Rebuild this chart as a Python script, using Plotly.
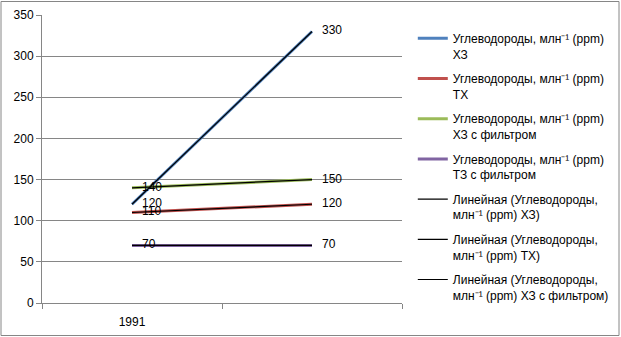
import plotly.graph_objects as go

categories = ["1991", ""]
hc_xz = [120, 330]
hc_tx = [110, 120]
hc_xz_filter = [140, 150]
hc_tz_filter = [70, 70]

series_names = [
    "Углеводороды, млн⁻¹ (ppm)<br>ХЗ",
    "Углеводороды, млн⁻¹ (ppm)<br>ТХ",
    "Углеводороды, млн⁻¹ (ppm)<br>ХЗ с фильтром",
    "Углеводороды, млн⁻¹ (ppm)<br>ТЗ с фильтром",
]
trend_names = [
    "Линейная (Углеводороды,<br>млн⁻¹ (ppm) ХЗ)",
    "Линейная (Углеводороды,<br>млн⁻¹ (ppm) ТХ)",
    "Линейная (Углеводороды,<br>млн⁻¹ (ppm) ХЗ с фильтром)",
]
colors = ["#4F81BD", "#C0504D", "#9BBB59", "#8064A2"]
series = [hc_xz, hc_tx, hc_xz_filter, hc_tz_filter]

xpos = list(range(len(categories)))
FONT = "Liberation Sans"

fig = go.Figure()
for i, (vals, name, col) in enumerate(zip(series, series_names, colors)):
    fig.add_trace(go.Scatter(
        x=xpos, y=vals, name=name, mode="lines+text",
        line=dict(color=col, width=3),
        text=[str(v) for v in vals], texttemplate="   %{text}",
        textposition="middle right",
        textfont=dict(family=FONT, size=12, color="#000000"),
        legendgroup=f"g{i}",
    ))

# linear trendlines (two points -> straight line through them)
for i, vals in enumerate(series):
    show = i < len(trend_names)
    fig.add_trace(go.Scatter(
        x=xpos, y=vals, mode="lines",
        name=trend_names[i] if show else "trend",
        line=dict(color="#000000", width=1.2),
        showlegend=show, legendgroup=f"t{i}",
    ))

W, H = 621, 337
L, R, T, B = 42, 219, 15, 34
pw, ph = W - L - R, H - T - B

fig.update_layout(
    width=W, height=H,
    margin=dict(l=L, r=R, t=T, b=B, autoexpand=False),
    paper_bgcolor="white", plot_bgcolor="white",
    font=dict(family=FONT, size=12, color="#000000"),
    legend=dict(
        x=1.03, y=1 - 24 / H, xanchor="left", yanchor="top",
        yref="container", maxheight=330,
        font=dict(family=FONT, size=12), valign="top",
        traceorder="grouped", tracegroupgap=6, itemwidth=30,
        bgcolor="rgba(0,0,0,0)",
    ),
    xaxis=dict(
        range=[-0.5, 1.5], tickvals=xpos, ticktext=categories,
        ticks="", showgrid=False, zeroline=False, ticklabelstandoff=8,
        showline=True, linecolor="#868686", linewidth=1,
        tickfont=dict(family=FONT, size=12),
        minor=dict(tickvals=[-0.5, 0.5, 1.5], ticks="outside", ticklen=5,
                   tickcolor="#868686", showgrid=False),
    ),
    yaxis=dict(
        range=[0, 350], dtick=50, ticks="outside", ticklen=5,
        tickcolor="#868686", showgrid=True, gridcolor="#868686", gridwidth=1,
        zeroline=False, showline=True, linecolor="#868686", linewidth=1,
        tickfont=dict(family=FONT, size=12),
    ),
    shapes=[dict(
        type="rect", xref="paper", yref="paper",
        x0=(1 - L) / pw, x1=(W - 2 - L) / pw,
        y0=-(B - 1.5) / ph, y1=1 + (T - 1.5) / ph,
        line=dict(color="#868686", width=1),
    )],
)

fig.write_html("out.html", config={"displayModeBar": False},
               post_script="document.body.style.margin='0';")
